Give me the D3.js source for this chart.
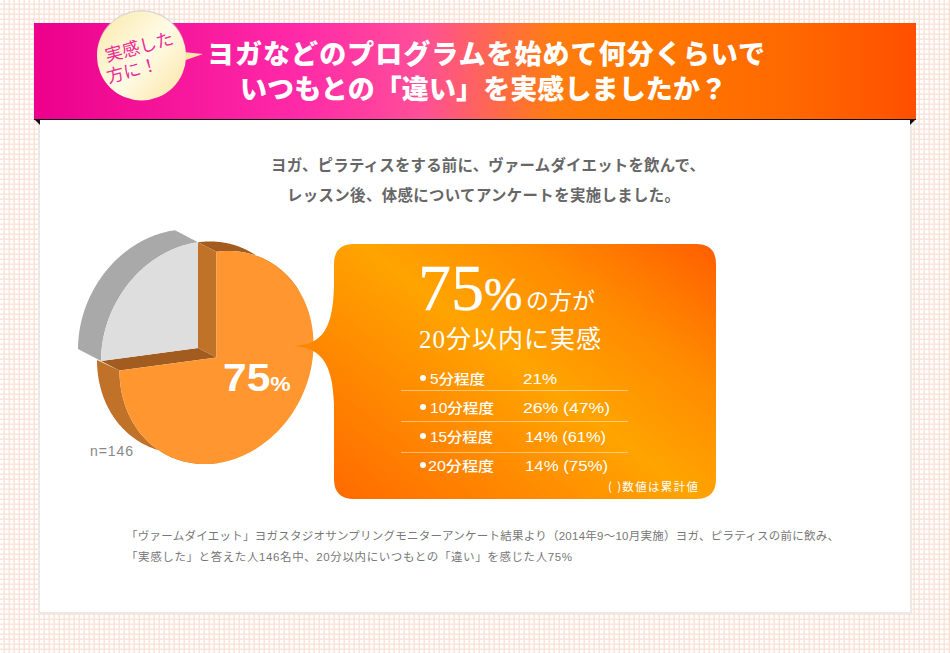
<!DOCTYPE html>
<html lang="ja">
<head>
<meta charset="utf-8">
<script src="https://d3js.org/d3.v7.min.js"></script>
<style>
  html, body { margin: 0; padding: 0; background: #fff; overflow: hidden; }
  text { font-family: "Noto Sans CJK JP", sans-serif; }
</style>
</head>
<body>
<svg id="chart" width="950" height="653"></svg>
<script>
// values
const pieLabels = ["実感", "その他"];
const pieValues = [75, 25];
const sampleLabel = "n=146";
const rowLabels = ["5分程度", "10分程度", "15分程度", "20分程度"];
const rowShare = [21, 26, 14, 14];
const rowTotal = [null, 47, 61, 75];
const titleLines = ["ヨガなどのプログラムを始めて何分くらいで", "いつもとの「違い」を実感しましたか？"];
const leadLines = ["ヨガ、ピラティスをする前に、ヴァームダイエットを飲んで、", "レッスン後、体感についてアンケートを実施しました。"];
const noteLines = [
  "「ヴァームダイエット」ヨガスタジオサンプリングモニターアンケート結果より（2014年9～10月実施）ヨガ、ピラティスの前に飲み、",
  "「実感した」と答えた人146名中、20分以内にいつもとの「違い」を感じた人75%"
];

const svg = d3.select("#chart");
const defs = svg.append("defs");
const latinSans = "'Liberation Sans', 'Noto Sans CJK JP', sans-serif";
const serif = "'Liberation Serif', 'Noto Sans CJK JP', serif";

function addGradient(id, coords, stops) {
  const g = defs.append("linearGradient").attr("id", id).attr("gradientUnits", "userSpaceOnUse")
    .attr("x1", coords[0]).attr("y1", coords[1]).attr("x2", coords[2]).attr("y2", coords[3]);
  stops.forEach(s => g.append("stop").attr("offset", s[0]).attr("stop-color", s[1]));
}
addGradient("bannerFill", [34, 0, 916, 0], [[0, "#ec008c"], [0.3, "#ff2aa8"], [0.44, "#ff4f98"], [0.59, "#ff7d10"], [0.68, "#ff7a00"], [0.86, "#ff6800"], [1, "#ff4f00"]]);
addGradient("calloutFill", [395, 545, 660, 195], [[0, "#ff6a00"], [0.5, "#ffa400"], [0.72, "#ff8c00"], [1, "#ff5c00"]]);
addGradient("bubbleFill", [100, 20, 185, 95], [[0, "#fbeab0"], [0.5, "#fffbe6"], [1, "#fbe6a8"]]);

// background grid
const grid = defs.append("pattern").attr("id", "bgGrid").attr("patternUnits", "userSpaceOnUse")
  .attr("width", 5).attr("height", 5);
grid.append("rect").attr("width", 5).attr("height", 5).attr("fill", "#fff");
grid.append("rect").attr("x", 3.5).attr("width", 1.4).attr("height", 5).attr("fill", "#fbe2d6");
grid.append("rect").attr("y", 3.5).attr("width", 5).attr("height", 1.4).attr("fill", "#fbe2d6");
svg.append("rect").attr("width", 950).attr("height", 653).attr("fill", "url(#bgGrid)");

// card
svg.append("rect").attr("x", 38).attr("y", 119).attr("width", 874).attr("height", 495).attr("fill", "#ecE8e6");
svg.append("rect").attr("x", 40).attr("y", 119).attr("width", 870).attr("height", 493).attr("fill", "#fff");

// banner
const line = d3.line();
svg.append("path").attr("d", line([[34, 119], [40, 119], [40, 125]]) + "Z").attr("fill", "#111");
svg.append("path").attr("d", line([[916, 119], [910, 119], [910, 125]]) + "Z").attr("fill", "#111");
svg.append("rect").attr("x", 34).attr("y", 23).attr("width", 882).attr("height", 96).attr("fill", "url(#bannerFill)");
svg.append("rect").attr("x", 34).attr("y", 119).attr("width", 882).attr("height", 1).attr("fill", "#111");

const titleX = [207, 240];
const titleLen = [558, 487];
svg.selectAll(".title").data(titleLines).enter().append("text")
  .attr("class", "title")
  .attr("x", (d, i) => titleX[i]).attr("y", (d, i) => 64 + i * 35)
  .attr("textLength", (d, i) => titleLen[i]).attr("lengthAdjust", "spacing")
  .attr("font-size", 27).attr("font-weight", 900).attr("fill", "#fff")
  .text(d => d);

// speech bubble
svg.append("path").attr("d", line([[183, 52], [203, 54], [183, 61]]) + "Z").attr("fill", "#fbe6a8");
svg.append("circle").attr("cx", 141.5).attr("cy", 54.5).attr("r", 44.5).attr("fill", "#ccc").attr("opacity", 0.7);
svg.append("circle").attr("cx", 141.5).attr("cy", 56).attr("r", 44.5).attr("fill", "url(#bubbleFill)");
const bubble = svg.append("g").attr("transform", "translate(141,57) rotate(-15)");
["実感した", "方に！"].forEach((t, i) => {
  bubble.append("text").attr("x", i ? -12 : 1).attr("y", i ? 17 : -4)
    .attr("text-anchor", "middle").attr("font-size", 17.5).attr("font-weight", 400).attr("fill", "#ec2a96").text(t);
});

// pie: d3.pie gives the angles, project() tilts the disc
const pieArcs = d3.pie().sort(null)(pieValues);
const orangeArc = pieArcs[0];
const greyArc = pieArcs[1];
const radius = 97;
const shear = -0.135;
const squash = 1.09;

function project(cx, cy, angle, r) {
  const x = Math.sin(angle) * r;
  const y = -Math.cos(angle) * r;
  return [cx + x, cy + shear * x + squash * y];
}
function rim(cx, cy, a0, a1) {
  return d3.range(0, 121).map(i => project(cx, cy, a0 + (a1 - a0) * i / 120, radius));
}
function sideWall(c0, c1, a0, a1, fill) {
  const pts = rim(c0[0], c0[1], a0, a1).concat(rim(c1[0], c1[1], a0, a1).reverse());
  svg.append("path").attr("d", line(pts) + "Z").attr("fill", fill);
}
function wedge(c, a0, a1, fill) {
  const pts = [c].concat(rim(c[0], c[1], a0, a1));
  svg.append("path").attr("d", line(pts) + "Z").attr("fill", fill);
}
function flatWall(pts, fill) {
  svg.append("path").attr("d", line(pts) + "Z").attr("fill", fill);
}

const frontC = [216.5, 357.5];
const backC = [198, 348];
const lowBack = [194, 347];
const greyC = [198, 348];
const greyBack = [175, 336];

// orange outer side, then walls of the notch
sideWall(frontC, backC, orangeArc.startAngle, orangeArc.startAngle + 1.0, "#a35c20");
sideWall(frontC, lowBack, orangeArc.endAngle - 1.6, orangeArc.endAngle, "#c07328");
flatWall([backC, frontC, project(frontC[0], frontC[1], 0, radius), project(backC[0], backC[1], 0, radius)], "#c07328");
flatWall([backC, frontC, project(frontC[0], frontC[1], orangeArc.endAngle, radius), project(backC[0], backC[1], orangeArc.endAngle, radius)], "#a35c20");
wedge(frontC, orangeArc.startAngle, orangeArc.endAngle, "#ff9630");

// grey slice
sideWall(greyC, greyBack, greyArc.startAngle, greyArc.endAngle, "#a9a9a9");
wedge(greyC, greyArc.startAngle, greyArc.endAngle, "#dedede");

const pieText = svg.append("text").attr("transform", "translate(223,391) scale(1.09,1)")
  .style("font-family", "'Liberation Sans', sans-serif")
  .attr("font-size", 39).attr("font-weight", 700).attr("fill", "#fff")
  .text(pieValues[0]);
pieText.append("tspan").attr("font-size", 21).text("%");

svg.append("text").attr("x", 90).attr("y", 456)
  .style("font-family", "'Liberation Sans', sans-serif")
  .attr("textLength", 43).attr("lengthAdjust", "spacing")
  .attr("font-size", 14).attr("fill", "#888").text(sampleLabel);

// callout with tail towards the pie
const box = { x0: 334, x1: 716, y0: 244, y1: 499, r: 20 };
const tip = d3.path();
tip.moveTo(box.x0 + box.r, box.y0);
tip.lineTo(box.x1 - box.r, box.y0);
tip.quadraticCurveTo(box.x1, box.y0, box.x1, box.y0 + box.r);
tip.lineTo(box.x1, box.y1 - box.r);
tip.quadraticCurveTo(box.x1, box.y1, box.x1 - box.r, box.y1);
tip.lineTo(box.x0 + box.r, box.y1);
tip.quadraticCurveTo(box.x0, box.y1, box.x0, box.y1 - box.r);
tip.lineTo(box.x0, 405);
tip.bezierCurveTo(333, 370, 325, 347, 293, 346);
tip.bezierCurveTo(325, 345, 333, 325, box.x0, 285);
tip.lineTo(box.x0, box.y0 + box.r);
tip.quadraticCurveTo(box.x0, box.y0, box.x0 + box.r, box.y0);
tip.closePath();
svg.append("path").attr("d", tip.toString()).attr("fill", "url(#calloutFill)");

// callout headline
const head = svg.append("text").attr("x", 418).attr("y", 310).attr("fill", "#fff").style("font-family", serif)
  .attr("stroke", "#fff").attr("stroke-width", 0.4);
head.append("tspan").attr("font-size", 66).text(pieValues[0]);
head.append("tspan").attr("font-size", 46).text("%");
svg.append("text").attr("x", 526).attr("y", 309).attr("fill", "#fff").style("font-family", serif)
  .attr("font-size", 23).attr("font-weight", 400).text("の方が");
svg.append("text").attr("x", 419).attr("y", 348).attr("fill", "#fff").style("font-family", serif)
  .attr("textLength", 182).attr("lengthAdjust", "spacing")
  .attr("font-size", 25).attr("font-weight", 400).text("20分以内に実感");

// table rows
const rowY = d3.scalePoint().domain(rowLabels).range([384, 471]);
const ruleY = d3.scalePoint().domain(rowLabels).range([390, 483]);
const labelLen = [55, 64, 63, 66];
const labelX = [430, 430, 430, 428];
const valueLen = [34, 87, 81, 83];
const valueX = [523, 523, 525, 525];
const rows = svg.selectAll(".row").data(rowLabels).enter().append("g").attr("class", "row");
rows.append("circle").attr("cx", 423).attr("cy", d => rowY(d) - 6).attr("r", 3).attr("fill", "#fff");
rows.append("text").attr("x", (d, i) => labelX[i]).attr("y", d => rowY(d))
  .style("font-family", latinSans)
  .attr("textLength", (d, i) => labelLen[i]).attr("lengthAdjust", "spacingAndGlyphs")
  .attr("font-size", 14).attr("font-weight", 500).attr("fill", "#fff").text(d => d);
rows.append("text").attr("x", (d, i) => valueX[i]).attr("y", d => rowY(d))
  .style("font-family", latinSans)
  .attr("textLength", (d, i) => valueLen[i]).attr("lengthAdjust", "spacingAndGlyphs")
  .attr("font-size", 14).attr("font-weight", 500).attr("fill", "#fff")
  .text((d, i) => rowShare[i] + "%" + (rowTotal[i] === null ? "" : " (" + rowTotal[i] + "%)"));
rowLabels.slice(0, -1).forEach(d => {
  svg.append("rect").attr("x", 401).attr("y", ruleY(d)).attr("width", 227).attr("height", 1)
    .attr("fill", "#fff").attr("opacity", 0.45);
});
svg.append("text").attr("x", 608).attr("y", 491)
  .attr("textLength", 90).attr("lengthAdjust", "spacing")
  .attr("font-size", 11.5).attr("fill", "#fff").text("( )数値は累計値");

// texts on the card
const leadX = [271, 287];
const leadLen = [434, 393];
svg.selectAll(".lead").data(leadLines).enter().append("text")
  .attr("class", "lead")
  .attr("x", (d, i) => leadX[i]).attr("y", (d, i) => 171 + i * 30)
  .attr("textLength", (d, i) => leadLen[i]).attr("lengthAdjust", "spacing")
  .attr("font-size", 15.4).attr("font-weight", 700).attr("fill", "#666")
  .text(d => d);
const noteLen = [713, 446];
svg.selectAll(".note").data(noteLines).enter().append("text")
  .attr("class", "note")
  .attr("x", 126).attr("y", (d, i) => 540 + i * 21)
  .style("font-family", latinSans)
  .attr("textLength", (d, i) => noteLen[i]).attr("lengthAdjust", "spacing")
  .attr("font-size", 11.5).attr("fill", "#777")
  .text(d => d);
</script>
</body>
</html>
